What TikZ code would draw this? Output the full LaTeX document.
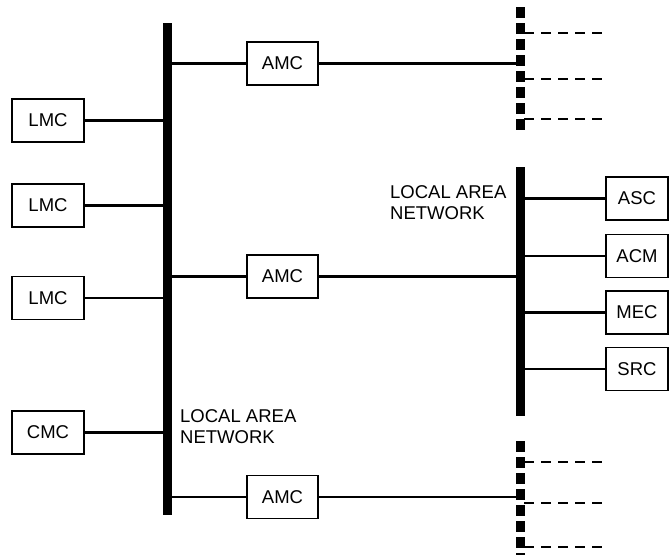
\documentclass[tikz,border=0pt]{standalone}
\usepackage{fontspec}
\setmainfont{Liberation Sans}
\begin{document}
\begin{tikzpicture}[x=1pt,y=-1pt,
  box/.style={draw, line width=1.1pt, minimum height=43pt, inner sep=0pt, font=\fontsize{18.5}{20}\selectfont},
  lbox/.style={box, minimum width=72pt},
  abox/.style={box, minimum width=71pt},
  rbox/.style={box, minimum width=62pt},
  conn/.style={line width=2.5pt},
  bus/.style={line width=9pt},
  dbus/.style={line width=9pt, dash pattern=on 11pt off 5pt},
  dconn/.style={line width=2.5pt, dash pattern=on 10pt off 7pt},
  lbl/.style={align=left, anchor=base west, inner sep=0pt, font=\fontsize{18.5}{21}\selectfont}]
\useasboundingbox (0,0) rectangle (669,554);
% buses
\coordinate (lbT) at (167,23);
\coordinate (lbB) at (167,515);
\draw[bus] (lbT) -- (lbB);
\coordinate (rbT) at (520,167);
\coordinate (rbB) at (520,416);
\draw[bus] (rbT) -- (rbB);
\coordinate (dtT) at (520,7);
\coordinate (dtB) at (520,135);
\draw[dbus] (dtT) -- (dtB);
\coordinate (dbT) at (520,441);
\coordinate (dbB) at (520,560);
\draw[dbus] (dbT) -- (dbB);
% left boxes
\node[lbox] (lmc1) at (48,120.5) {LMC};
\node[lbox] (lmc2) at (48,205.5) {LMC};
\node[lbox] (lmc3) at (48,298) {LMC};
\node[lbox] (cmc) at (48,432.5) {CMC};
\foreach \n in {lmc1,lmc2,lmc3,cmc}{
  \draw[conn] (\n.east) -- (\n.east -| lbT);
}
% AMC boxes
\node[abox] (amc1) at (282.5,63.5) {AMC};
\node[abox] (amc2) at (282.5,276.5) {AMC};
\node[abox] (amc3) at (282.5,497) {AMC};
\draw[conn] (amc1.west -| lbT) -- (amc1.west);
\draw[conn] (amc1.east) -- (amc1.east -| dtT);
\draw[conn] (amc2.west -| lbT) -- (amc2.west);
\draw[conn] (amc2.east) -- (amc2.east -| rbT);
\draw[conn] (amc3.west -| lbT) -- (amc3.west);
\draw[conn] (amc3.east) -- (amc3.east -| dbT);
% right boxes
\node[rbox] (asc) at (637,198.5) {ASC};
\node[rbox] (acm) at (637,256) {ACM};
\node[rbox] (mec) at (637,312.5) {MEC};
\node[rbox] (src) at (637,369) {SRC};
\foreach \n in {asc,acm,mec,src}{
  \draw[conn] (\n.west -| rbT) -- (\n.west);
}
% dashed branches
\foreach \y [count=\i] in {33,79,119,462,503,547}{
  \coordinate (de\i) at (603,\y);
  \draw[dconn] (de\i -| dtT) ++(4,0) -- (de\i);
}
% labels
\node[lbl] (lanl) at (180,443.5) {LOCAL AREA\\NETWORK};
\node[lbl] (lanr) at (390,219.5) {LOCAL AREA\\NETWORK};
\end{tikzpicture}
\end{document}
